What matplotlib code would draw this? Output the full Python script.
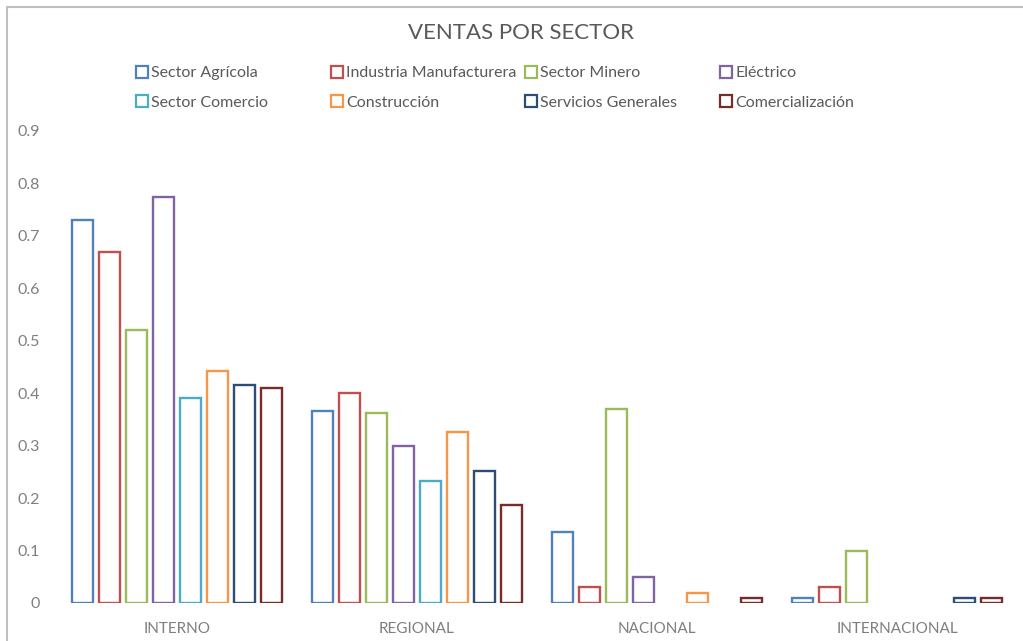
import matplotlib
matplotlib.use("Agg")
import matplotlib.pyplot as plt
from matplotlib.lines import Line2D
from matplotlib.patches import Rectangle
import numpy as np

plt.rcParams['font.family'] = ['Lato', 'DejaVu Sans']

categories = ["INTERNO", "REGIONAL", "NACIONAL", "INTERNACIONAL"]
series_names = ["Sector Agrícola", "Industria Manufacturera", "Sector Minero", "Eléctrico",
                "Sector Comercio", "Construcción", "Servicios Generales", "Comercialización"]
sector_agricola = [0.73, 0.366, 0.135, 0.01]
industria_manufacturera = [0.67, 0.40, 0.03, 0.03]
sector_minero = [0.52, 0.363, 0.37, 0.10]
electrico = [0.775, 0.30, 0.05, 0.0]
sector_comercio = [0.39, 0.233, 0.0, 0.0]
construccion = [0.443, 0.327, 0.02, 0.0]
servicios_generales = [0.416, 0.252, 0.0, 0.01]
comercializacion = [0.41, 0.187, 0.01, 0.01]
yticks = [0, 0.1, 0.2, 0.3, 0.4, 0.5, 0.6, 0.7, 0.8, 0.9]
ytick_labels = ["0", "0.1", "0.2", "0.3", "0.4", "0.5", "0.6", "0.7", "0.8", "0.9"]

series = [sector_agricola, industria_manufacturera, sector_minero, electrico,
          sector_comercio, construccion, servicios_generales, comercializacion]
colors = ["#4F81BD", "#C0504D", "#9BBB59", "#8064A2",
          "#4BACC6", "#F79646", "#2C4D75", "#772C2A"]

W, H = 1023, 641
fig = plt.figure(figsize=(W / 100, H / 100), dpi=100)
ax = fig.add_axes([57 / W, 38 / H, 960 / W, (603 - 131) / H])

x = np.arange(len(categories))
pitch = 27 / 240
bw = 21 / 240
n = len(series)
for i, (vals, c) in enumerate(zip(series, colors)):
    offs = (i - (n - 1) / 2) * pitch
    v = np.array(vals, dtype=float)
    mask = v > 0  # zero values draw no bar
    ax.bar(x[mask] + offs, v[mask], width=bw, facecolor="white", edgecolor=c, linewidth=1.7)

ax.set_xlim(-0.5, len(categories) - 0.5)
ax.set_ylim(0, 0.9)
ax.set_yticks(yticks)
ax.set_yticklabels(ytick_labels)
ax.set_xticks(x)
ax.set_xticklabels(categories)
for s in ax.spines.values():
    s.set_visible(False)
ax.tick_params(axis='y', length=0, pad=12, labelsize=11.5, labelcolor="#7F7F7F")
ax.tick_params(axis='x', length=0, pad=14, labelsize=11, labelcolor="#7F7F7F")

fig.text(521 / W, 1 - 33 / H, "VENTAS POR SECTOR", ha="center", va="center",
         fontsize=16, color="#595959")

# legend: four columns of two entries, row-major order
col_x = [136, 331, 525, 720]
for col in range(4):
    handles = []
    labels = []
    for row in range(2):
        k = row * 4 + col
        handles.append(Line2D([], [], linestyle="none", marker="s", markersize=8,
                              markerfacecolor="white", markeredgecolor=colors[k],
                              markeredgewidth=1.6))
        labels.append(series_names[k])
    leg = fig.legend(handles, labels, loc="upper left",
                     bbox_to_anchor=(col_x[col] / W, 1 - 66 / H),
                     frameon=False, fontsize=11.5, handlelength=0.75,
                     handletextpad=0.2, labelspacing=0.95, borderpad=0,
                     borderaxespad=0)
    for t in leg.get_texts():
        t.set_color("#595959")

# chart area border (cropped on right and bottom)
fig.patches.append(Rectangle((7 / W, -0.1), 1.2, 1 - 7 / H + 0.1, transform=fig.transFigure,
                             fill=False, edgecolor="#BFBFBF", linewidth=1.5))

fig.savefig("out.png", dpi=100, facecolor="white")
